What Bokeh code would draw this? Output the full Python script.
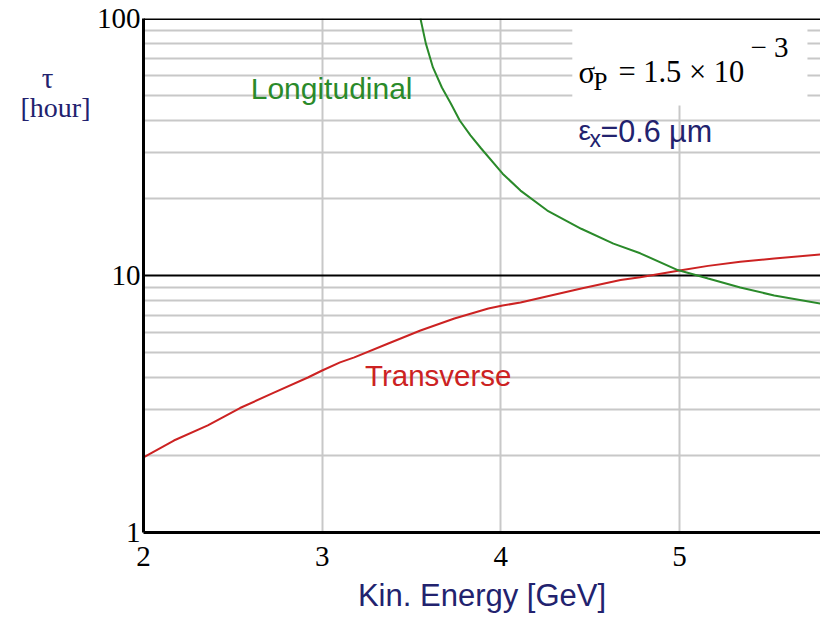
from bokeh.plotting import figure
from bokeh.layouts import row
from bokeh.models import Span, Label, BoxAnnotation, FixedTicker, Range1d
from bokeh.embed import file_html
from bokeh.resources import INLINE

# Beam lifetime vs kinetic energy
energy_transverse = [2.0, 2.17, 2.36, 2.54, 2.73, 2.92, 3.0, 3.1, 3.18, 3.37, 3.55,
                     3.74, 3.93, 4.01, 4.11, 4.45, 4.67, 4.78, 5.0, 5.16, 5.34, 5.53, 5.79]
tau_transverse = [1.96, 2.28, 2.61, 3.05, 3.50, 4.01, 4.27, 4.59, 4.80, 5.44, 6.11,
                  6.80, 7.44, 7.64, 7.85, 8.9, 9.6, 9.85, 10.45, 10.9, 11.3, 11.65, 12.07]

energy_longitudinal = [3.55, 3.58, 3.62, 3.67, 3.72, 3.77, 3.83, 3.89, 4.01, 4.11, 4.26,
                       4.45, 4.63, 4.78, 4.99, 5.16, 5.34, 5.53, 5.79]
tau_longitudinal = [100, 80, 64.5, 53.9, 46.7, 40.1, 35.1, 31.2, 24.9, 21.4, 17.9,
                    15.2, 13.3, 12.2, 10.5, 9.73, 8.98, 8.36, 7.78]

x_ticks = [2, 3, 4, 5]
y_ticks = [1, 10, 100]
y_minor = [2, 3, 4, 5, 6, 7, 8, 9, 20, 30, 40, 50, 60, 70, 80, 90]

NAVY = "#22226e"
GREEN = "#2a8a2a"
RED = "#cc2222"
SERIF = "Liberation Serif"
SANS = "Liberation Sans"

W, H = 820, 621
SIDE_W = 93          # strip holding the y-axis title
MAIN_BORDER_L = 50   # room for the y tick labels

# --- narrow strip with the y-axis title ---------------------------------
side = figure(width=SIDE_W, height=H, x_range=Range1d(0, SIDE_W), y_range=Range1d(0, H),
              output_backend="svg", toolbar_location=None,
              min_border=0, min_border_left=0, min_border_right=0,
              min_border_top=0, min_border_bottom=0)
side.axis.visible = False
side.grid.visible = False
side.outline_line_color = None
side.background_fill_color = "white"
side.border_fill_color = "white"
side.add_layout(Label(x=47, y=H - 72, text="τ", text_font=SERIF, text_font_size="29px",
                      text_color=NAVY, text_align="center", text_baseline="middle"))
side.add_layout(Label(x=55, y=H - 108, text="[hour]", text_font=SERIF, text_font_size="28px",
                      text_color=NAVY, text_align="center", text_baseline="middle"))

# --- main chart -------------------------------------------------------------
p = figure(width=W - SIDE_W, height=H, y_axis_type="log",
           x_range=Range1d(2, 5.789), y_range=Range1d(1, 100),
           output_backend="svg", toolbar_location=None,
           min_border_left=MAIN_BORDER_L, min_border_right=0,
           min_border_top=18, min_border_bottom=89)
p.outline_line_color = None
p.background_fill_color = "white"
p.border_fill_color = "white"

# grid
p.xaxis.ticker = FixedTicker(ticks=x_ticks)
p.yaxis.ticker = FixedTicker(ticks=y_ticks, minor_ticks=y_minor)
p.xgrid.ticker = FixedTicker(ticks=x_ticks)
p.ygrid.ticker = FixedTicker(ticks=y_ticks, minor_ticks=y_minor)
p.xgrid.grid_line_color = "#c8c8c8"
p.xgrid.grid_line_width = 2
p.ygrid.grid_line_color = "black"
p.ygrid.grid_line_width = 2
p.ygrid.minor_grid_line_color = "#c8c8c8"
p.ygrid.minor_grid_line_width = 2

# axes
for ax in (p.xaxis[0], p.yaxis[0]):
    ax.axis_line_color = "black"
    ax.axis_line_width = 3
    ax.major_tick_line_color = None
    ax.minor_tick_line_color = None
    ax.major_tick_out = 0
    ax.major_tick_in = 0
    ax.minor_tick_out = 0
    ax.minor_tick_in = 0
    ax.major_label_text_font = SERIF
    ax.major_label_text_font_size = "29px"
    ax.major_label_text_color = "black"

p.yaxis.major_label_overrides = {t: str(t) for t in y_ticks}
p.yaxis.major_label_standoff = 3
p.xaxis.major_label_standoff = 14
p.xaxis.axis_label = "Kin. Energy [GeV]"
p.xaxis.axis_label_text_font = SANS
p.xaxis.axis_label_text_font_style = "normal"
p.xaxis.axis_label_text_font_size = "31px"
p.xaxis.axis_label_text_color = NAVY
p.xaxis.axis_label_standoff = 9

# top border
p.add_layout(Span(location=100, dimension="width", line_color="black", line_width=3))

# white panel behind the parameter text
p.add_layout(BoxAnnotation(left=4.40, right=5.716, bottom=45.9, top=99,
                           fill_color="white", fill_alpha=1.0, line_color=None,
                           level="glyph"))

p.line(energy_transverse, tau_transverse, line_color=RED, line_width=2)
p.line(energy_longitudinal, tau_longitudinal, line_color=GREEN, line_width=2)

# curve labels
p.add_layout(Label(x=2.60, y=53.4, text="Longitudinal", text_font=SANS,
                   text_font_size="30px", text_color=GREEN, text_baseline="middle"))
p.add_layout(Label(x=3.24, y=4.08, text="Transverse", text_font=SANS,
                   text_font_size="29.5px", text_color=RED, text_baseline="middle"))

# sigma_P = 1.5 x 10^-3
sx, sy, dy = 4.434, 55.9, 11
p.add_layout(Label(x=sx, y=sy, y_offset=dy, text="σ", text_font=SERIF, text_font_size="31px",
                   text_color="black", text_baseline="alphabetic"))
p.add_layout(Label(x=sx, y=sy, x_offset=15, y_offset=dy - 9, text="P", text_font=SERIF,
                   text_font_size="25px", text_color="black", text_baseline="alphabetic"))
p.add_layout(Label(x=sx, y=sy, x_offset=40, y_offset=dy, text="= 1.5 × 10", text_font=SERIF,
                   text_font_size="30.5px", text_color="black", text_baseline="alphabetic"))
p.add_layout(Label(x=sx, y=sy, x_offset=172, y_offset=dy + 25, text="− 3", text_font=SERIF,
                   text_font_size="29px", text_color="black", text_baseline="alphabetic"))

# emittance
ex, ey, edy = 4.434, 33.5, 10
p.add_layout(Label(x=ex, y=ey, y_offset=edy, text="ε", text_font=SANS, text_font_size="28px",
                   text_color=NAVY, text_baseline="alphabetic"))
p.add_layout(Label(x=ex, y=ey, x_offset=11, y_offset=edy - 8, text="x", text_font=SANS,
                   text_font_size="23px", text_color=NAVY, text_baseline="alphabetic"))
p.add_layout(Label(x=ex, y=ey, x_offset=22, y_offset=edy, text="=0.6 µm", text_font=SANS,
                   text_font_size="30.5px", text_color=NAVY, text_baseline="alphabetic"))

layout = row(side, p, spacing=0)
open("out.html", "w").write(file_html(layout, INLINE))
